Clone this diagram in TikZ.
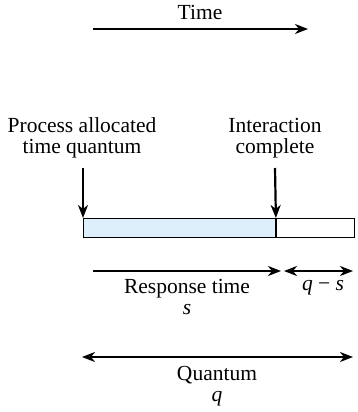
\documentclass[tikz,border=0pt]{standalone}
\usepackage{fontspec}
\setmainfont{Liberation Serif}
\usetikzlibrary{arrows.meta}
\definecolor{lightfill}{RGB}{220,239,250}
\begin{document}
\begin{tikzpicture}[x=1pt,y=-1pt,
  lbl/.style={font=\fontsize{21.5}{21}\selectfont, inner sep=0pt, anchor=base},
  tip/.tip={Stealth[length=13pt,width=10pt,inset=4pt]},
  arr/.style={line width=2.2pt, -tip},
  darr/.style={line width=2.2pt, tip-tip},
  box/.style={draw, line width=0.9pt, minimum height=19pt, inner sep=0pt, anchor=north west}]
\useasboundingbox (0,0) rectangle (358,412);
% time axis
\node[lbl] (time) at (200,20) {Time};
\coordinate (t1) at (93,29);
\coordinate (t2) at (308,29);
\draw[arr] (t1) -- (t2);
% labels
\node[lbl] (pa1) at (82,132) {Process allocated};
\node[lbl] (pa2) at (82,153) {time quantum};
\node[lbl] (ic1) at (275,132) {Interaction};
\node[lbl] (ic2) at (275,153) {complete};
% bar
\node[box, fill=lightfill, minimum width=192pt] (used) at (83,218) {};
\node[box, fill=white, minimum width=78pt] (rest) at (used.north east) {};
\coordinate (a1) at (83,168);
\coordinate (a2) at (275,168);
\draw[arr] (a1) -- (used.north west);
\draw[arr] (a2) -- (used.north east);
% response time
\coordinate (r1) at (93,271);
\coordinate (r2) at (281,271);
\draw[arr] (r1) -- (r2);
\coordinate (d1) at (284,271);
\coordinate (d2) at (353,271);
\draw[darr] (d1) -- (d2);
\node[lbl] (rt) at (187,293) {Response time};
\node[lbl] (s) at (187,314) {\textit{s}};
\node[lbl] (qs) at (323,290) {\textit{q} − \textit{s}};
% quantum
\coordinate (q1) at (82,357);
\coordinate (q2) at (353,357);
\draw[darr] (q1) -- (q2);
\node[lbl] (quant) at (217,380) {Quantum};
\node[lbl] (q) at (217,401) {\textit{q}};
\end{tikzpicture}
\end{document}
